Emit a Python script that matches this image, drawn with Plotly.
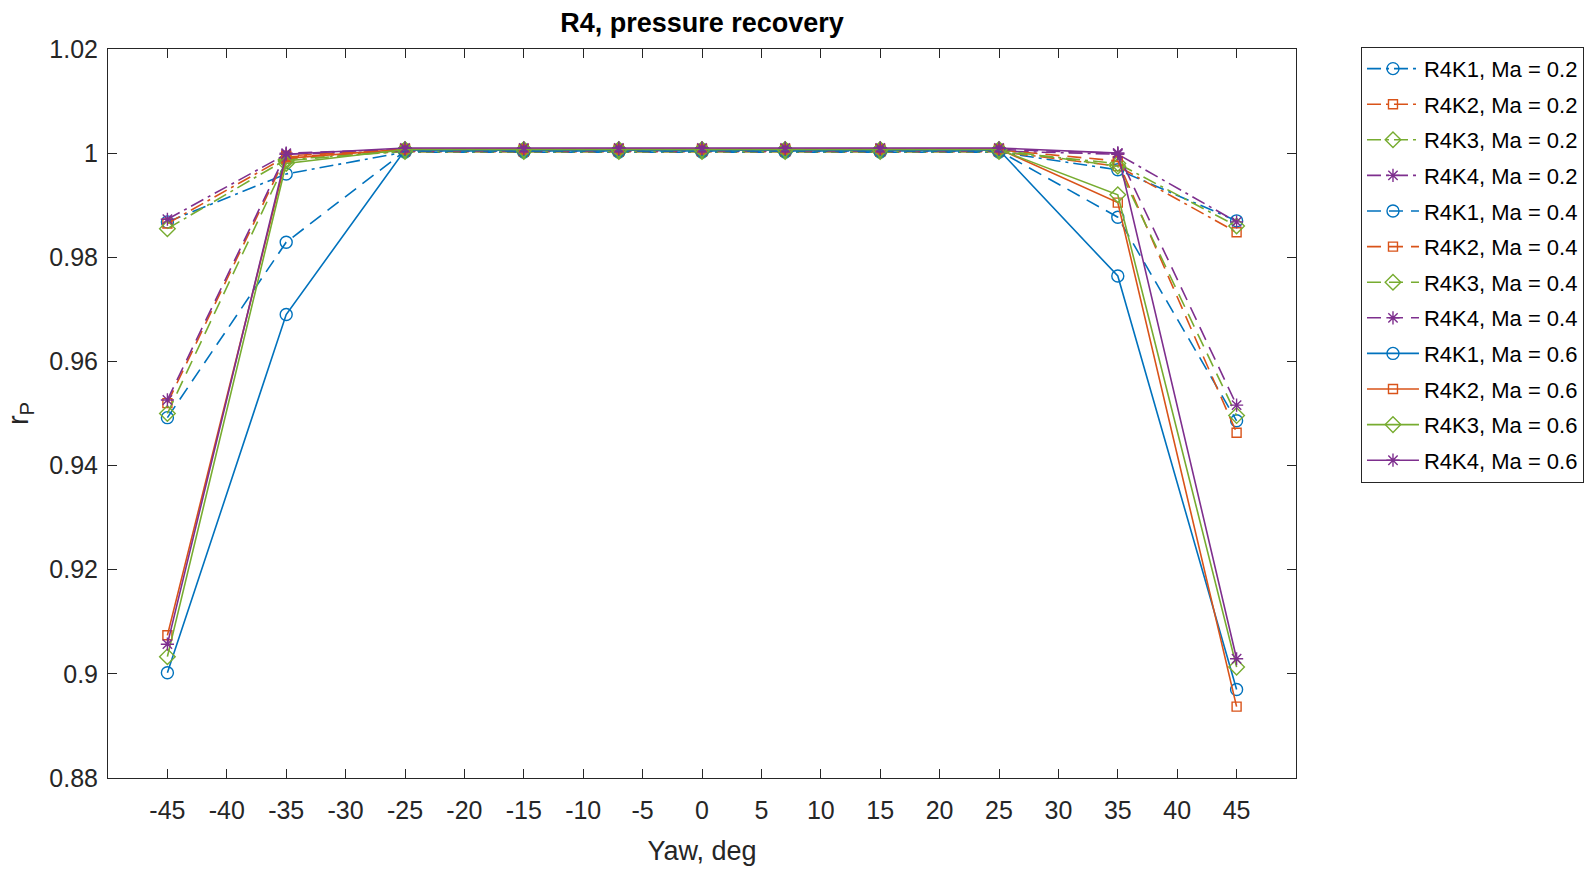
import plotly.graph_objects as go

yaw = [-45, -35, -25, -15, -7, 0, 7, 15, 25, 35, 45]

# Ma = 0.2
r4k1_m02 = [0.9868, 0.9960, 1.0002, 1.0002, 1.0002, 1.0002, 1.0002, 1.0002, 1.0002, 0.9968, 0.9870]
r4k2_m02 = [0.9865, 0.9993, 1.0003, 1.0003, 1.0003, 1.0003, 1.0003, 1.0003, 1.0003, 0.9975, 0.9848]
r4k3_m02 = [0.9855, 0.9988, 1.0003, 1.0003, 1.0003, 1.0003, 1.0003, 1.0003, 1.0003, 0.9980, 0.9860]
r4k4_m02 = [0.9873, 0.9998, 1.0004, 1.0004, 1.0004, 1.0004, 1.0004, 1.0004, 1.0004, 0.9998, 0.9868]
# Ma = 0.4
r4k1_m04 = [0.9492, 0.9829, 1.0004, 1.0004, 1.0004, 1.0004, 1.0004, 1.0004, 1.0004, 0.9877, 0.9486]
r4k2_m04 = [0.9520, 0.9995, 1.0006, 1.0006, 1.0006, 1.0006, 1.0006, 1.0006, 1.0006, 0.9985, 0.9463]
r4k3_m04 = [0.9500, 0.9985, 1.0006, 1.0006, 1.0006, 1.0006, 1.0006, 1.0006, 1.0006, 0.9975, 0.9496]
r4k4_m04 = [0.9526, 1.0000, 1.0007, 1.0007, 1.0007, 1.0007, 1.0007, 1.0007, 1.0007, 1.0000, 0.9516]
# Ma = 0.6
r4k1_m06 = [0.9002, 0.9690, 1.0006, 1.0006, 1.0006, 1.0006, 1.0006, 1.0006, 1.0006, 0.9764, 0.8970]
r4k2_m06 = [0.9074, 0.9990, 1.0008, 1.0008, 1.0008, 1.0008, 1.0008, 1.0008, 1.0008, 0.9905, 0.8937]
r4k3_m06 = [0.9033, 0.9980, 1.0007, 1.0007, 1.0007, 1.0007, 1.0007, 1.0007, 1.0007, 0.9920, 0.9013]
r4k4_m06 = [0.9057, 0.9998, 1.0010, 1.0010, 1.0010, 1.0010, 1.0010, 1.0010, 1.0010, 1.0000, 0.9029]

series_names = [
    "R4K1, Ma = 0.2", "R4K2, Ma = 0.2", "R4K3, Ma = 0.2", "R4K4, Ma = 0.2",
    "R4K1, Ma = 0.4", "R4K2, Ma = 0.4", "R4K3, Ma = 0.4", "R4K4, Ma = 0.4",
    "R4K1, Ma = 0.6", "R4K2, Ma = 0.6", "R4K3, Ma = 0.6", "R4K4, Ma = 0.6",
]
series_values = [
    r4k1_m02, r4k2_m02, r4k3_m02, r4k4_m02,
    r4k1_m04, r4k2_m04, r4k3_m04, r4k4_m04,
    r4k1_m06, r4k2_m06, r4k3_m06, r4k4_m06,
]

x_tickvals = [-45, -40, -35, -30, -25, -20, -15, -10, -5, 0, 5, 10, 15, 20, 25, 30, 35, 40, 45]
x_ticktext = ["-45", "-40", "-35", "-30", "-25", "-20", "-15", "-10", "-5", "0",
              "5", "10", "15", "20", "25", "30", "35", "40", "45"]
y_tickvals = [0.88, 0.90, 0.92, 0.94, 0.96, 0.98, 1.00, 1.02]
y_ticktext = ["0.88", "0.9", "0.92", "0.94", "0.96", "0.98", "1", "1.02"]

colors = ["#0072BD", "#D95319", "#77AC30", "#7E2F8E"]
symbols = ["circle-open", "square-open", "diamond-open", "asterisk-open"]
msizes = [12, 9, 12, 11]
dashes = ["14px,5px,3px,5px", "14px,8px", "solid"]

FONT = "Liberation Sans, Arial, sans-serif"

fig = go.Figure()
for i, (name, vals) in enumerate(zip(series_names, series_values)):
    k = i % 4
    m = i // 4
    fig.add_trace(go.Scatter(
        x=yaw, y=vals, name=name, mode="lines+markers", legendgroup=name,
        line=dict(color=colors[k], width=1.6, dash=dashes[m]),
        marker=dict(symbol=symbols[k], size=msizes[k], color=colors[k],
                    line=dict(color=colors[k], width=1.4)),
    ))

axis_common = dict(
    showline=True, linecolor="#262626", linewidth=1, mirror="ticks",
    ticks="inside", ticklen=9, tickcolor="#262626", showgrid=False, zeroline=False,
    tickfont=dict(family=FONT, size=25, color="#262626"),
)

fig.update_layout(
    width=1596, height=871,
    paper_bgcolor="white", plot_bgcolor="white",
    margin=dict(l=108, r=300, t=49, b=93, autoexpand=False),
    font=dict(family=FONT, color="#262626"),
    title=dict(text="<b>R4, pressure recovery</b>", x=0.5, xref="paper",
               y=1 - 23.0 / 871, yref="container", yanchor="middle", xanchor="center",
               font=dict(family=FONT, size=27, color="black")),
    xaxis=dict(range=[-50, 50], tickvals=x_tickvals, ticktext=x_ticktext,
               ticklabelstandoff=10,
               title=dict(text="Yaw, deg", font=dict(family=FONT, size=27, color="#262626"), standoff=18),
               **axis_common),
    yaxis=dict(range=[0.88, 1.02], tickvals=y_tickvals, ticktext=y_ticktext,
               ticklabelstandoff=4,
               title=dict(text="r<sub>P</sub>", font=dict(family=FONT, size=29, color="#262626"), standoff=12),
               **axis_common),
    legend=dict(x=1.0547, y=1.003, xanchor="left", yanchor="top",
                bordercolor="#262626", borderwidth=1, bgcolor="white",
                font=dict(family=FONT, size=22, color="black"),
                tracegroupgap=4, itemwidth=52, maxheight=700),
    showlegend=True,
)

fig.write_html("out.html", config={"displayModeBar": False},
               post_script="document.body.style.margin='0';")
